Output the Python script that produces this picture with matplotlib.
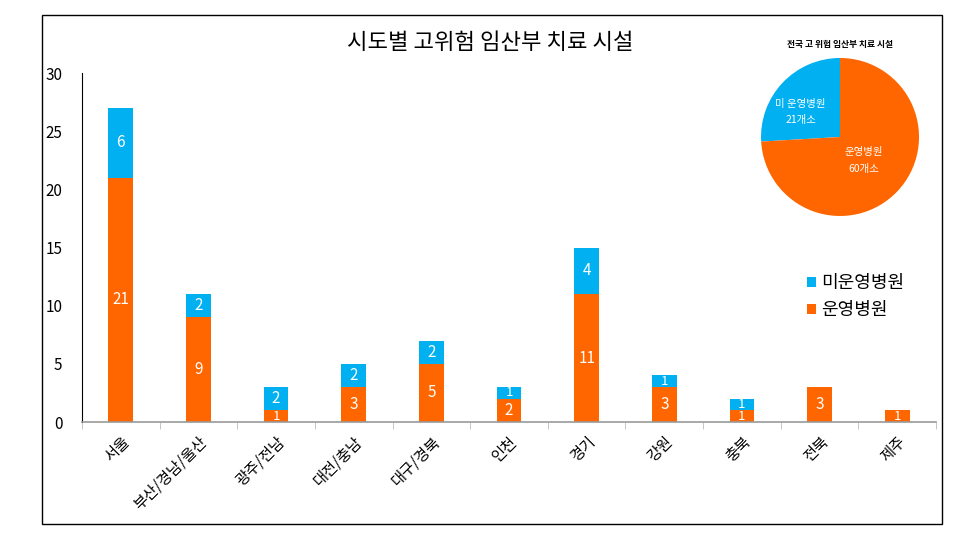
import matplotlib.pyplot as plt
import numpy as np
from matplotlib.patches import Rectangle

plt.rcParams['font.family'] = ['Noto Sans CJK KR', 'DejaVu Sans']

regions = ['서울', '부산/경남/울산', '광주/전남', '대전/충남', '대구/경북', '인천',
           '경기', '강원', '충북', '전북', '제주']
operating = [21, 9, 1, 3, 5, 2, 11, 3, 1, 3, 1]
not_operating = [6, 2, 2, 2, 2, 1, 4, 1, 1, 0, 0]

pie_labels = ['미 운영병원\n21개소', '운영병원\n60개소']
pie_values = [21, 60]

orange = '#FF6600'
blue = '#00B0F0'

fig = plt.figure(figsize=(9.7, 5.42), dpi=100)
fig.patches.append(Rectangle((0.0433, 0.0332), 0.928, 0.939, transform=fig.transFigure,
                             fill=False, edgecolor='black', linewidth=1.0))

ax = fig.add_axes([0.0845, 0.2214, 0.8805, 0.6439])
x = np.arange(len(regions))
w = 0.32
ax.bar(x, operating, w, color=orange, label='운영병원', zorder=2)
ax.bar(x, not_operating, w, bottom=operating, color=blue, label='미운영병원', zorder=2)

for i in range(len(regions)):
    o = operating[i]
    n = not_operating[i]
    fs = 11 if o > 1 else 9.5
    ax.text(x[i], o / 2, str(o), ha='center', va='center', color='white', fontsize=fs)
    if n > 0:
        fs = 11 if n > 1 else 9.5
        ax.text(x[i], o + n / 2, str(n), ha='center', va='center', color='white', fontsize=fs)

ax.set_xlim(-0.45, len(regions) - 0.55)
ax.set_ylim(0, 30)
ax.set_yticks([0, 5, 10, 15, 20, 25, 30])
ax.tick_params(axis='y', length=0, labelsize=11, pad=14)
ax.set_xticks(x)
ax.set_xticklabels(regions, rotation=45, ha='right', rotation_mode='anchor', fontsize=11)
ax.tick_params(axis='x', length=0, pad=8)
ax.set_xticks(np.arange(-0.5, len(regions)), minor=True)
ax.tick_params(axis='x', which='minor', length=5, color='#BBBBBB', direction='out')
ax.spines['top'].set_visible(False)
ax.spines['right'].set_visible(False)
ax.spines['bottom'].set_color('#999999')
ax.spines['bottom'].set_linewidth(1.2)
ax.spines['left'].set_color('black')
ax.spines['left'].set_linewidth(0.8)

handles, labels = ax.get_legend_handles_labels()
ax.legend(handles[::-1], labels[::-1], loc='upper left', bbox_to_anchor=(0.83, 0.47),
          frameon=False, fontsize=13, handlelength=0.5, handleheight=0.5,
          handletextpad=0.3, labelspacing=0.5)

fig.text(0.505, 0.922, '시도별 고위험 임산부 치료 시설', ha='center', va='center', fontsize=16)

pax = fig.add_axes([0.7845, 0.6015, 0.163, 0.2915])
wedges, texts = pax.pie(pie_values, colors=[blue, orange], startangle=90, counterclock=True,
                        labels=pie_labels, labeldistance=0.5,
                        textprops={'color': 'white', 'fontsize': 7.5, 'ha': 'center', 'va': 'center',
                                   'linespacing': 1.8})
texts[0].set_position((-0.5, 0.32))
texts[1].set_position((0.3, -0.3))
pax.set_xlim(-1, 1)
pax.set_ylim(-1, 1)
pax.set_aspect('equal')
fig.text(0.866, 0.917, '전국 고 위험 임산부 치료 시설', ha='center', va='center', fontsize=6.3,
         fontweight='bold')

fig.savefig('out.png', dpi=100)
